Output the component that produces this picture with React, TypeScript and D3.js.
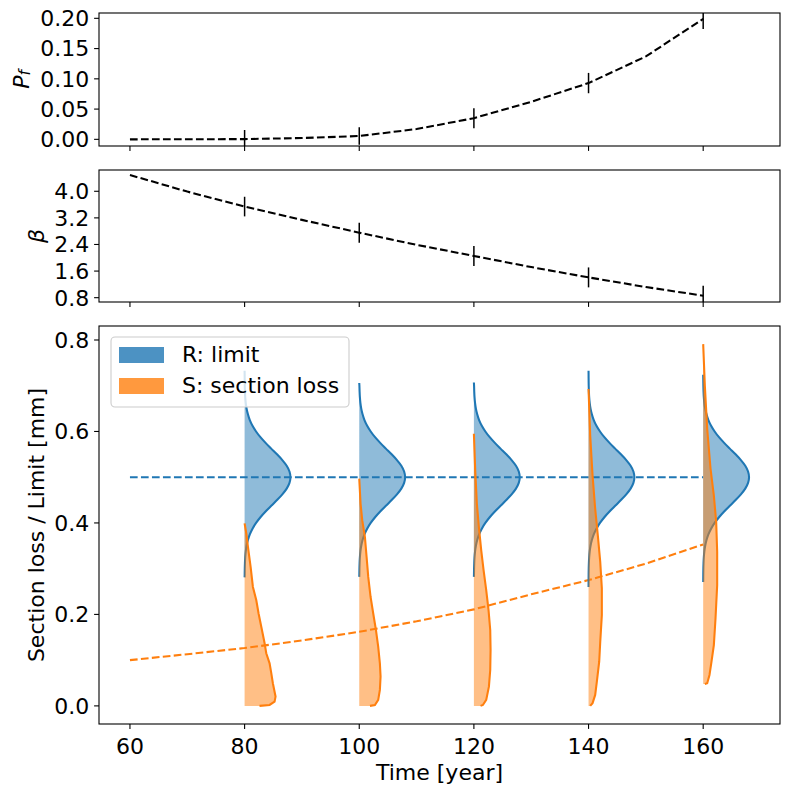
import React from "react";
import * as d3 from "d3";

// time grid of the reliability curves
const years = [60, 70, 80, 90, 100, 110, 120, 130, 140, 150, 160];
const pfValues = [0.0, 0.0001, 0.0004, 0.0022, 0.0055, 0.017, 0.035, 0.062, 0.093, 0.137, 0.199];
const betaValues = [4.49, 3.99, 3.54, 3.14, 2.755, 2.39, 2.055, 1.72, 1.41, 1.12, 0.86];
const sMeanValues = [0.1, 0.113, 0.1265, 0.143, 0.162, 0.185, 0.211, 0.244, 0.275, 0.311, 0.353];
const rMeanValue = 0.5;

// years where the distributions are drawn
const pdfYears = [80, 100, 120, 140, 160];
const pfErr = [0.015, 0.0145, 0.0165, 0.0168, 0.0168];
const betaErr = [0.295, 0.3, 0.3, 0.3, 0.3];

// R: limit, sampled range and density profile (offset from mean, width in years)
const rLow = [0.281, 0.282, 0.282, 0.26, 0.271];
const rHigh = [0.733, 0.706, 0.707, 0.733, 0.724];
const rOffsets = [0, 0.0125, 0.025, 0.0375, 0.05, 0.0625, 0.075, 0.0875, 0.1, 0.1125, 0.125, 0.1375, 0.15, 0.1625, 0.175, 0.1875, 0.2, 0.2125, 0.225, 0.2375];
const rDensity = [8.0, 7.83, 7.34, 6.58, 5.65, 4.65, 3.66, 2.76, 2.0, 1.38, 0.91, 0.58, 0.35, 0.2, 0.11, 0.06, 0.03, 0.015, 0.007, 0.003];

// S: section loss density profiles (level, width in years)
const sLevels = [
  [0, 0.002, 0.0094, 0.0203, 0.0495, 0.071, 0.093, 0.115, 0.137, 0.173, 0.202, 0.231, 0.26, 0.304, 0.348, 0.377, 0.399],
  [0, 0.002, 0.013, 0.035, 0.064, 0.093, 0.129, 0.166, 0.202, 0.238, 0.282, 0.326, 0.369, 0.406, 0.442, 0.497],
  [0, 0.002, 0.013, 0.042, 0.0785, 0.122, 0.166, 0.209, 0.253, 0.297, 0.34, 0.391, 0.442, 0.515, 0.595],
  [0, 0.006, 0.024, 0.053, 0.0966, 0.14, 0.1985, 0.257, 0.315, 0.373, 0.431, 0.504, 0.591, 0.693],
  [0.048, 0.0495, 0.0676, 0.0966, 0.133, 0.191, 0.264, 0.337, 0.402, 0.46, 0.519, 0.606, 0.7, 0.791],
];
const sDensity = [
  [2.6, 4.36, 5.23, 5.4, 4.93, 4.66, 4.36, 3.78, 3.49, 2.91, 2.44, 2.04, 1.45, 1.05, 0.58, 0.3, 0],
  [1.87, 2.73, 3.31, 3.6, 3.72, 3.6, 3.31, 2.91, 2.44, 1.98, 1.57, 1.28, 0.99, 0.52, 0.23, 0],
  [1.16, 1.57, 2.15, 2.62, 2.85, 2.91, 2.85, 2.56, 2.15, 1.69, 1.28, 0.87, 0.52, 0.23, 0],
  [0.29, 0.7, 1.16, 1.45, 1.86, 2.04, 2.32, 2.32, 2.04, 1.62, 1.16, 0.7, 0.29, 0],
  [0.29, 0.7, 1.1, 1.45, 1.86, 2.15, 2.44, 2.44, 2.27, 1.86, 1.28, 0.7, 0.29, 0],
];

const timeTicks = [60, 80, 100, 120, 140, 160];
const pfTicks = [0, 0.05, 0.1, 0.15, 0.2];
const betaTicks = [0.8, 1.6, 2.4, 3.2, 4.0];
const lossTicks = [0, 0.2, 0.4, 0.6, 0.8];

const BLUE = "#1f77b4";
const ORANGE = "#ff7f0e";
const FONT = "DejaVu Sans, sans-serif";
const FS = 22;
const LW = 2.08;
const DASH = "7.7 3.3";

const left = 99;
const right = 780;
const pfBox = [13, 146];
const betaBox = [170, 302];
const lossBox = [326, 724];

const x = d3.scaleLinear().domain([54.6, 173.4]).range([left, right]);
const yPf = d3.scaleLinear().domain([-0.011, 0.2088]).range([pfBox[1], pfBox[0]]);
const yBeta = d3.scaleLinear().domain([0.67, 4.64]).range([betaBox[1], betaBox[0]]);
const yLoss = d3.scaleLinear().domain([-0.0396, 0.8306]).range([lossBox[1], lossBox[0]]);

type P = { v: number; w: number };

// full symmetric R profile around the mean
const rProfile: P[] = [
  ...rOffsets.slice(1).reverse().map((o, i) => ({ v: rMeanValue - o, w: rDensity[rOffsets.length - 1 - i] })),
  ...rOffsets.map((o, i) => ({ v: rMeanValue + o, w: rDensity[i] })),
];

const YAxis = ({ scale, ticks, fmt }: any) => (
  <g>
    {ticks.map((t: number) => (
      <g key={t}>
        <line x1={left - 4.9} x2={left} y1={scale(t)} y2={scale(t)} stroke="black" strokeWidth={1.1} />
        <text x={left - 9.8} y={scale(t)} dy="0.36em" textAnchor="end" fontSize={FS}>
          {fmt(t)}
        </text>
      </g>
    ))}
  </g>
);

const XTicks = ({ y0, labels }: { y0: number; labels: boolean }) => (
  <g>
    {timeTicks.map((t) => (
      <g key={t}>
        <line x1={x(t)} x2={x(t)} y1={y0} y2={y0 + 4.9} stroke="black" strokeWidth={1.1} />
        {labels && (
          <text x={x(t)} y={y0 + 30} textAnchor="middle" fontSize={FS}>
            {t}
          </text>
        )}
      </g>
    ))}
  </g>
);

const Frame = ({ box }: { box: number[] }) => (
  <rect x={left} y={box[0]} width={right - left} height={box[1] - box[0]} fill="none" stroke="black" strokeWidth={1.1} />
);

export default function App() {
  const pfLine = d3.line<number>().x((_, i) => x(years[i])).y((d) => yPf(d));
  const betaLine = d3.line<number>().x((_, i) => x(years[i])).y((d) => yBeta(d));
  const sMeanLine = d3.line<number>().x((_, i) => x(years[i])).y((d) => yLoss(d));

  const fmt2 = d3.format(".2f");
  const fmt1 = d3.format(".1f");

  return (
    <div style={{ position: "absolute", left: 0, top: 0 }}>
      <svg width={789} height={789} fontFamily={FONT} style={{ display: "block", background: "white" }}>
        <defs>
          <clipPath id="clipPf">
            <rect x={left} y={pfBox[0]} width={right - left} height={pfBox[1] - pfBox[0]} />
          </clipPath>
          <clipPath id="clipBeta">
            <rect x={left} y={betaBox[0]} width={right - left} height={betaBox[1] - betaBox[0]} />
          </clipPath>
          <clipPath id="clipLoss">
            <rect x={left} y={lossBox[0]} width={right - left} height={lossBox[1] - lossBox[0]} />
          </clipPath>
        </defs>

        {/* Panel 1: probability of failure */}
        <g clipPath="url(#clipPf)">
          <path d={pfLine(pfValues) || ""} fill="none" stroke="black" strokeWidth={LW} strokeDasharray={DASH} />
          {pdfYears.map((t, i) => {
            const v = pfValues[years.indexOf(t)];
            return (
              <line key={t} x1={x(t)} x2={x(t)} y1={yPf(v - pfErr[i])} y2={yPf(v + pfErr[i])} stroke="black" strokeWidth={1.5} />
            );
          })}
        </g>
        <Frame box={pfBox} />
        <YAxis scale={yPf} ticks={pfTicks} fmt={fmt2} />
        <XTicks y0={pfBox[1]} labels={false} />
        <text transform={`translate(21,${(pfBox[0] + pfBox[1]) / 2}) rotate(-90)`} textAnchor="middle" dominantBaseline="central" fontSize={FS}>
          <tspan fontStyle="italic">P</tspan>
          <tspan fontStyle="italic" fontSize={FS * 0.7} dy="0.25em">f</tspan>
        </text>

        {/* Panel 2: reliability index */}
        <g clipPath="url(#clipBeta)">
          <path d={betaLine(betaValues) || ""} fill="none" stroke="black" strokeWidth={LW} strokeDasharray={DASH} />
          {pdfYears.map((t, i) => {
            const v = betaValues[years.indexOf(t)];
            return (
              <line key={t} x1={x(t)} x2={x(t)} y1={yBeta(v - betaErr[i])} y2={yBeta(v + betaErr[i])} stroke="black" strokeWidth={1.5} />
            );
          })}
        </g>
        <Frame box={betaBox} />
        <YAxis scale={yBeta} ticks={betaTicks} fmt={fmt1} />
        <XTicks y0={betaBox[1]} labels={false} />
        <text transform={`translate(36,${(betaBox[0] + betaBox[1]) / 2}) rotate(-90)`} textAnchor="middle" dominantBaseline="central" fontSize={FS} fontStyle="italic">
          β
        </text>

        {/* Panel 3: distributions of R and S */}
        <g clipPath="url(#clipLoss)">
          <line x1={x(years[0])} x2={x(years[years.length - 1])} y1={yLoss(rMeanValue)} y2={yLoss(rMeanValue)} stroke={BLUE} strokeWidth={LW} strokeDasharray={DASH} />
          <path d={sMeanLine(sMeanValues) || ""} fill="none" stroke={ORANGE} strokeWidth={LW} strokeDasharray={DASH} />
          {pdfYears.map((t, i) => {
            const rPts: P[] = [
              { v: rLow[i], w: 0 },
              ...rProfile.filter((p) => p.v > rLow[i] && p.v < rHigh[i]),
              { v: rHigh[i], w: 0 },
            ];
            const sPts: P[] = sLevels[i].map((v, j) => ({ v, w: sDensity[i][j] }));
            const rArea = d3.area<P>().curve(d3.curveCatmullRom).y((d) => yLoss(d.v)).x0(x(t)).x1((d) => x(t + d.w));
            const rLine = d3.line<P>().curve(d3.curveCatmullRom).x((d) => x(t + d.w)).y((d) => yLoss(d.v));
            const sArea = d3.area<P>().y((d) => yLoss(d.v)).x0(x(t)).x1((d) => x(t + d.w));
            const sLine = d3.line<P>().x((d) => x(t + d.w)).y((d) => yLoss(d.v));
            return (
              <g key={t}>
                <path d={rArea(rPts) || ""} fill={BLUE} fillOpacity={0.5} />
                <path d={rLine(rPts) || ""} fill="none" stroke={BLUE} strokeWidth={LW} />
                <path d={sArea(sPts) || ""} fill={ORANGE} fillOpacity={0.5} />
                <path d={sLine(sPts) || ""} fill="none" stroke={ORANGE} strokeWidth={LW} />
              </g>
            );
          })}
        </g>
        <Frame box={lossBox} />
        <YAxis scale={yLoss} ticks={lossTicks} fmt={fmt1} />
        <XTicks y0={lossBox[1]} labels={true} />
        <text transform={`translate(36,${(lossBox[0] + lossBox[1]) / 2}) rotate(-90)`} textAnchor="middle" dominantBaseline="central" fontSize={FS}>
          Section loss / Limit [mm]
        </text>
        <text x={(left + right) / 2} y={780} textAnchor="middle" fontSize={FS}>
          Time [year]
        </text>

        {/* legend */}
        <g>
          <rect x={111} y={337} width={238} height={70} rx={4} fill="white" fillOpacity={0.8} stroke="#cccccc" strokeWidth={1.1} />
          <rect x={119} y={347} width={45} height={16} fill={BLUE} fillOpacity={0.8} />
          <text x={182} y={362} fontSize={FS}>R: limit</text>
          <rect x={119} y={378} width={45} height={16} fill={ORANGE} fillOpacity={0.8} />
          <text x={182} y={393} fontSize={FS}>S: section loss</text>
        </g>
      </svg>
    </div>
  );
}
